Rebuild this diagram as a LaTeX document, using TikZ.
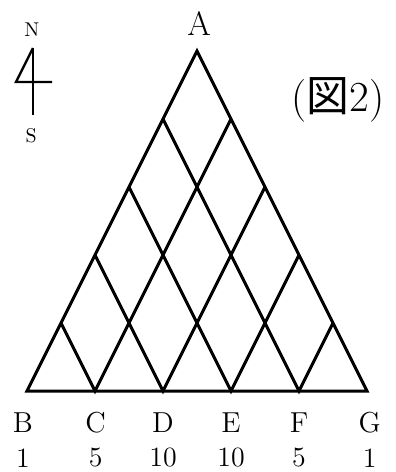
\documentclass[tikz,border=0pt]{standalone}
\usepackage{fontspec}
\newfontfamily\jpfont{Noto Sans CJK JP}
\usetikzlibrary{calc}

\begin{document}
\begin{tikzpicture}[
    x=1.2cm,
    y=1.2cm,
    edge/.style={draw=black,line width=1.5pt,line join=miter},
    grid/.style={draw=black,line width=1.5pt},
    vlabel/.style={font=\fontsize{14.5}{17}\selectfont,inner sep=0pt},
    count/.style={font=\fontsize{14}{16}\selectfont,inner sep=0pt},
    compass/.style={draw=black,line width=1.2pt}
]
\useasboundingbox (-0.397,-1.191) rectangle (5.426,5.75);

\coordinate (B) at (0,0);
\coordinate (C) at (1,0);
\coordinate (D) at (2,0);
\coordinate (E) at (3,0);
\coordinate (F) at (4,0);
\coordinate (G) at (5,0);
\coordinate (A) at (2.5,5);

% points on the two slanted sides
\coordinate (L1) at ($(B)!0.2!(A)$);
\coordinate (L2) at ($(B)!0.4!(A)$);
\coordinate (L3) at ($(B)!0.6!(A)$);
\coordinate (L4) at ($(B)!0.8!(A)$);
\coordinate (R1) at ($(G)!0.2!(A)$);
\coordinate (R2) at ($(G)!0.4!(A)$);
\coordinate (R3) at ($(G)!0.6!(A)$);
\coordinate (R4) at ($(G)!0.8!(A)$);

\draw[edge] (B) -- (A) -- (G) -- cycle;

\draw[grid] (L1) -- (C) -- (R4);
\draw[grid] (L2) -- (D) -- (R3);
\draw[grid] (L3) -- (E) -- (R2);
\draw[grid] (L4) -- (F) -- (R1);

\node[vlabel,font=\fontsize{17}{19}\selectfont] (lA) at (2.53,5.40) {A};
\node[vlabel] (lB) at (-0.06,-0.47) {B};
\node[vlabel] (lC) at (1.01,-0.47) {C};
\node[vlabel] (lD) at (2.00,-0.47) {D};
\node[vlabel] (lE) at (3.00,-0.47) {E};
\node[vlabel] (lF) at (4.00,-0.47) {F};
\node[vlabel] (lG) at (5.04,-0.47) {G};

\node[count] (nB) at (-0.06,-0.985) {1};
\node[count] (nC) at (1.01,-0.985) {5};
\node[count] (nD) at (2.00,-0.985) {10};
\node[count] (nE) at (3.00,-0.985) {10};
\node[count] (nF) at (4.00,-0.985) {5};
\node[count] (nG) at (5.04,-0.985) {1};

% compass
\coordinate (Ntop) at (0.088,5.044);
\coordinate (Sbot) at (0.088,4.06);
\coordinate (Kl) at (-0.162,4.544);
\coordinate (Kr) at (0.368,4.544);
\draw[compass] (Ntop) -- (Sbot);
\draw[compass] (Ntop) -- (Kl) -- (Kr);
\node[inner sep=0pt,font=\fontsize{10}{12}\selectfont] (north) at (0.07,5.31) {N};
\node[inner sep=0pt,font=\fontsize{10}{12}\selectfont] (south) at (0.06,3.76) {S};

\node[inner sep=0pt,font=\fontsize{21.5}{24}\selectfont] (fig) at (4.57,4.28) {(\jpfont 図\normalfont 2)};

\end{tikzpicture}
\end{document}
